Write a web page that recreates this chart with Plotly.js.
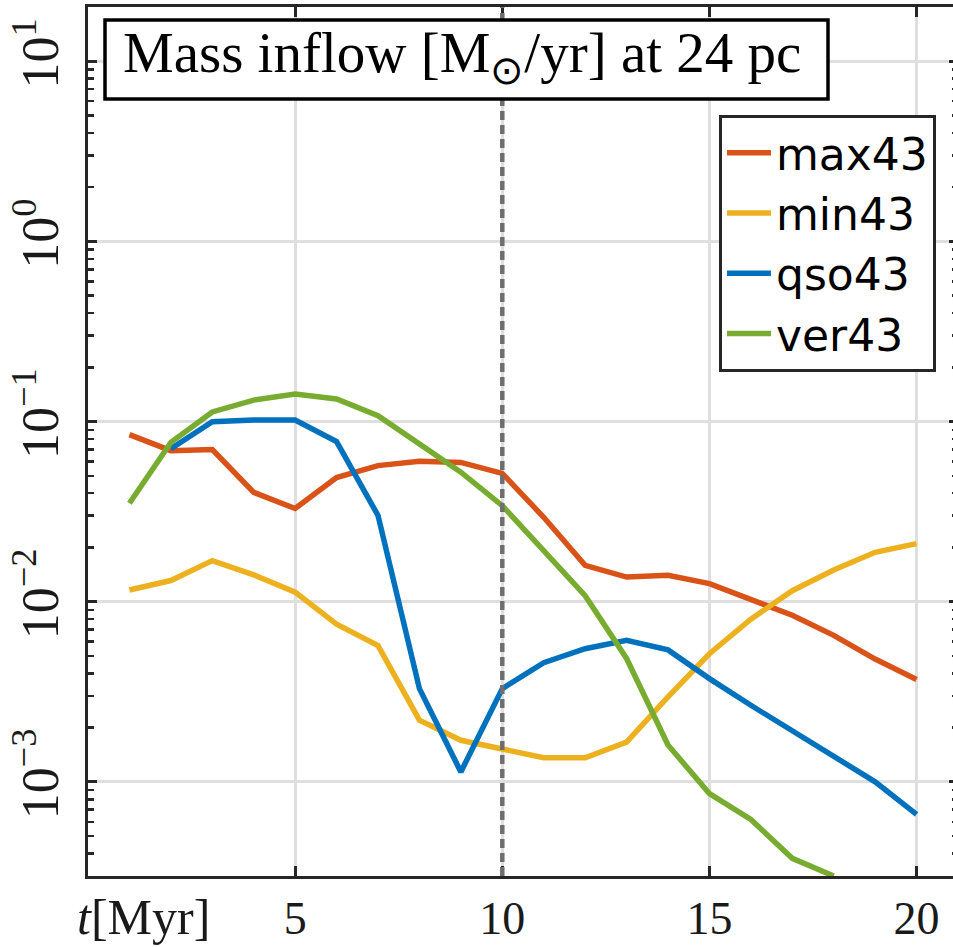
<!DOCTYPE html>
<html>
<head>
<meta charset="utf-8">
<script src="https://cdn.plot.ly/plotly-3.0.1.min.js"></script>
<style>
html,body{margin:0;padding:0;overflow:hidden;background:#fff;}
#plot{width:958px;height:947px;}
</style>
</head>
<body>
<div id="plot"></div>
<script>
// ---- data ----
const t = [1,2,3,4,5,6,7,8,9,10,11,12,13,14,15,16,17,18,19,20];
const max43 = [0.0845,0.0689,0.0699,0.0404,0.0329,0.0489,0.0569,0.0601,0.0593,0.0515,0.0294,0.0159,0.0137,0.0140,0.0126,0.0102,0.0084,0.0065,0.0048,0.0037];
const min43 = [0.0116,0.0131,0.0169,0.0141,0.0113,0.0075,0.0057,0.0022,0.0017,0.00151,0.00136,0.00136,0.00166,0.00296,0.00514,0.0080,0.0115,0.0150,0.0188,0.0210];
const qso43 = [null,0.0706,0.0998,0.102,0.102,0.0773,0.0301,0.00329,0.001135,0.00329,0.00458,0.00548,0.0061,0.0054,0.00374,0.00266,0.00193,0.00139,0.0010,0.00066];
const ver43 = [0.0352,0.0766,0.113,0.1315,0.142,0.1334,0.1076,0.075,0.0523,0.0341,0.0192,0.0108,0.00484,0.0016,0.00086,0.000618,0.000376,0.0003,null,null];
const seriesNames = ['max43','min43','qso43','ver43'];
const seriesColors = ['#D95319','#EDB120','#0072BD','#77AC30'];
const xTicks = [5,10,15,20];
const xTickText = ['5','10','15','20'];
const yTicks = [1e-3,1e-2,1e-1,1,10];
const yTickText = ['10<sup>−3</sup>','10<sup>−2</sup>','10<sup>−1</sup>','10<sup>0</sup>','10<sup>1</sup>'];
const xLimits = [0,21];
const yLimits = [3e-4,20];
const markerT = 10;
const titleText = 'Mass inflow [M<sub>⊙</sub>/yr] at 24 pc';
const xLabel = '<i>t</i>[Myr]';

const allY = [max43,min43,qso43,ver43];
const traces = allY.map((y,i)=>({
  x: t, y: y, name: seriesNames[i], type:'scatter', mode:'lines',
  line:{color:seriesColors[i], width:5.5}, connectgaps:false
}));

const axisColor = '#262626';
const serif = 'Liberation Serif, Times New Roman, serif';

const layout = {
  width:958, height:947,
  margin:{l:88, r:0, t:7, b:71},
  paper_bgcolor:'#fff', plot_bgcolor:'#fff',
  showlegend:true,
  xaxis:{
    range:xLimits, tickvals:xTicks, ticktext:xTickText,
    showline:true, linecolor:axisColor, linewidth:3, mirror:'allticks',
    ticks:'inside', ticklen:10, tickwidth:3, tickcolor:axisColor,
    showgrid:true, gridcolor:'#dfdfdf', gridwidth:3, zeroline:false,
    tickfont:{family:serif, size:46, color:'#1a1a1a'},
    ticklabelstandoff:0
  },
  yaxis:{
    type:'log', range:[Math.log10(yLimits[0]), Math.log10(yLimits[1])],
    tickvals:yTicks, ticktext:yTickText, tickangle:-90,
    showline:true, linecolor:axisColor, linewidth:3, mirror:'allticks',
    ticks:'inside', ticklen:9, tickwidth:3, tickcolor:axisColor,
    showgrid:true, gridcolor:'#dfdfdf', gridwidth:3, zeroline:false,
    tickfont:{family:serif, size:52, color:'#1a1a1a'},
    ticklabelstandoff:6,
    minor:{ticks:'inside', ticklen:6, tickwidth:2.5, tickcolor:axisColor, dtick:'D1', showgrid:false}
  },
  legend:{
    x:0.9747, xanchor:'right', y:0.876, yanchor:'top',
    bgcolor:'#fff', bordercolor:axisColor, borderwidth:3,
    font:{family:'DejaVu Sans, sans-serif', size:44, color:'#000'},
    itemwidth:44, tracegroupgap:0
  },
  shapes:[
    {type:'line', xref:'x', yref:'paper', x0:markerT, x1:markerT, y0:0, y1:1,
     line:{color:'#6e6e6e', width:4.5, dash:'9,5'}, layer:'above'},
    {type:'rect', xref:'paper', yref:'paper',
     x0:(105-88)/870, x1:(828-88)/870, y0:1-(99-7)/869, y1:1-(20-7)/869,
     fillcolor:'#fff', line:{color:'#000', width:3.5}, layer:'above'}
  ],
  annotations:[
    {xref:'paper', yref:'paper', x:(462-88)/870, y:1-(57-7)/869, xanchor:'center', yanchor:'middle',
     text:titleText, showarrow:false, font:{family:serif, size:57, color:'#000'}},
    {xref:'paper', yref:'paper', x:(143-88)/870, y:-0.047, xanchor:'center', yanchor:'middle',
     text:xLabel, showarrow:false, font:{family:serif, size:50, color:'#1a1a1a'}}
  ]
};

Plotly.newPlot('plot', traces, layout, {displayModeBar:false, staticPlot:true});
</script>
</body>
</html>
